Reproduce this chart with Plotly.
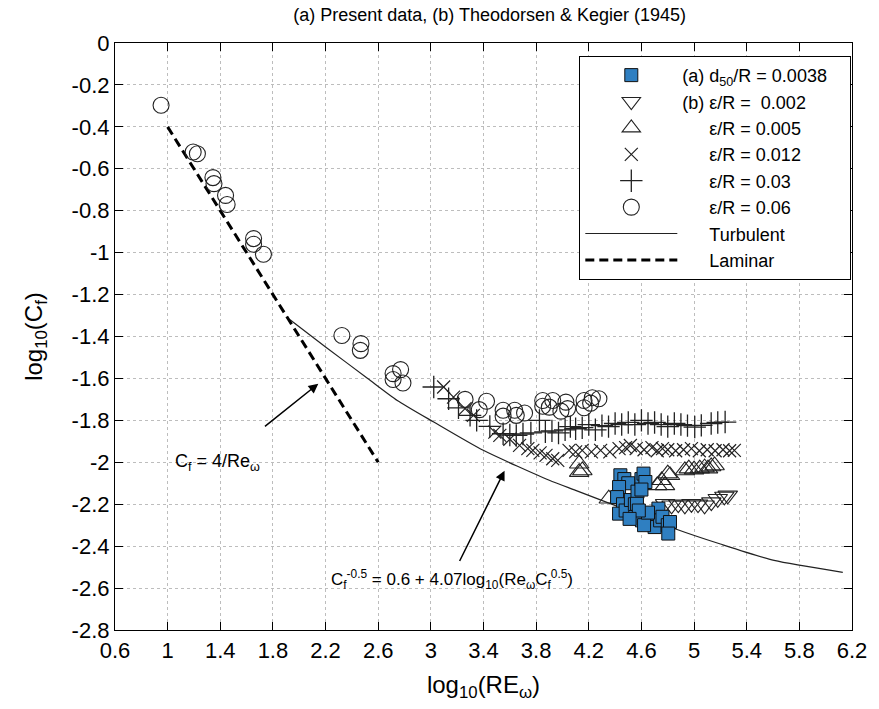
import plotly.graph_objects as go

# ---------------- data ----------------
sq_x = [4.44, 4.47, 4.50, 4.43, 4.415, 4.46, 4.43, 4.48, 4.52, 4.55, 4.57, 4.60, 4.616, 4.63, 4.60, 4.566,
        4.553, 4.604, 4.654, 4.68, 4.70, 4.729, 4.742, 4.76, 4.80, 4.817, 4.804, 4.62, 4.65, 4.58, 4.51]
sq_y = [-2.062, -2.08, -2.10, -2.118, -2.166, -2.20, -2.245, -2.23, -2.18, -2.20, -2.14, -2.08, -2.054,
        -2.094, -2.13, -2.198, -2.261, -2.277, -2.293, -2.245, -2.309, -2.221, -2.277, -2.26, -2.30,
        -2.285, -2.34, -2.30, -2.24, -2.23, -2.27]

tdn_x = [4.78, 4.829, 4.88, 4.93, 4.98, 5.03, 5.08, 5.131, 5.18, 5.23, 5.256]
tdn_y = [-2.198, -2.205, -2.20, -2.205, -2.198, -2.20, -2.205, -2.19, -2.174, -2.163, -2.158]

tup_x = [4.127, 4.127, 4.151, 4.352, 4.754, 4.779, 4.817, 4.80, 4.93, 4.96, 5.0, 5.043, 5.08, 5.106,
         5.13, 5.156, 4.72]
tup_y = [-2.007, -2.047, -2.039, -2.174, -2.086, -2.11, -2.062, -2.054, -2.039, -2.03, -2.035, -2.03,
         -2.025, -2.03, -2.02, -2.015, -2.11]

xm_x = [3.097, 3.172, 3.26, 3.323, 3.486, 3.524, 3.60, 3.674, 3.737, 3.775, 3.83, 3.875, 3.926, 3.964,
        4.05, 4.10, 4.15, 4.22, 4.29, 4.36, 4.43, 4.48, 4.516, 4.56, 4.62, 4.68, 4.72, 4.76, 4.80,
        4.86, 4.92, 4.98, 5.04, 5.10, 5.16, 5.22, 5.27, 5.306]
xm_y = [-1.641, -1.689, -1.744, -1.776, -1.856, -1.872, -1.89, -1.919, -1.935, -1.943, -1.955, -1.967,
        -1.983, -1.991, -1.943, -1.95, -1.943, -1.95, -1.943, -1.95, -1.935, -1.93, -1.92, -1.935, -1.94,
        -1.93, -1.945, -1.935, -1.94, -1.945, -1.94, -1.935, -1.945, -1.94, -1.945, -1.94, -1.945, -1.943]

pl_x = [3.022, 3.135, 3.21, 3.298, 3.348, 3.448, 3.549, 3.60, 3.649, 3.70, 3.76, 3.825, 3.87, 3.92,
        3.97, 4.02, 4.06, 4.10, 4.15, 4.20, 4.25, 4.30, 4.35, 4.40, 4.45, 4.50, 4.55, 4.60, 4.65, 4.70,
        4.75, 4.80, 4.85, 4.90, 4.95, 5.005, 5.055, 5.13, 5.18, 5.236]
pl_y = [-1.641, -1.697, -1.74, -1.776, -1.80, -1.829, -1.864, -1.87, -1.872, -1.865, -1.86, -1.80,
        -1.855, -1.85, -1.86, -1.845, -1.83, -1.84, -1.835, -1.82, -1.845, -1.825, -1.83, -1.815, -1.82,
        -1.81, -1.82, -1.80, -1.815, -1.81, -1.82, -1.83, -1.815, -1.82, -1.825, -1.832, -1.824, -1.815,
        -1.81, -1.808]

ci_x = [0.95, 1.194, 1.226, 1.344, 1.352, 1.44, 1.452, 1.653, 1.653, 1.728, 2.324, 2.469, 2.464, 2.713,
        2.77, 2.713, 2.788, 3.26, 3.368, 3.423, 3.549, 3.549, 3.637, 3.649, 3.712, 3.85, 3.85, 3.926,
        3.90, 3.988, 4.026, 4.039, 4.164, 4.164, 4.214, 4.227, 4.277]
ci_y = [-0.297, -0.52, -0.528, -0.642, -0.671, -0.727, -0.77, -0.933, -0.96, -1.008, -1.395, -1.434,
        -1.466, -1.577, -1.558, -1.605, -1.622, -1.70, -1.749, -1.709, -1.752, -1.78, -1.752, -1.776,
        -1.765, -1.705, -1.733, -1.705, -1.737, -1.756, -1.713, -1.744, -1.705, -1.74, -1.718, -1.692,
        -1.697]

turb_x = [1.93, 2.2, 2.52, 2.745, 3.022, 3.398, 3.9, 4.1, 4.5, 4.855, 5.2, 5.608, 6.13]
turb_y = [-1.32, -1.45, -1.60, -1.705, -1.808, -1.943, -2.086, -2.134, -2.23, -2.317, -2.39, -2.468, -2.525]

lam_x = [1.0, 2.6]
lam_y = [-0.4, -2.0]

x_ticks = [0.6, 1.0, 1.4, 1.8, 2.2, 2.6, 3.0, 3.4, 3.8, 4.2, 4.6, 5.0, 5.4, 5.8, 6.2]
x_ticktext = ["0.6", "1", "1.4", "1.8", "2.2", "2.6", "3", "3.4", "3.8", "4.2", "4.6", "5", "5.4", "5.8", "6.2"]
y_ticks = [0, -0.2, -0.4, -0.6, -0.8, -1.0, -1.2, -1.4, -1.6, -1.8, -2.0, -2.2, -2.4, -2.6, -2.8]
y_ticktext = ["0", "-0.2", "-0.4", "-0.6", "-0.8", "-1", "-1.2", "-1.4", "-1.6", "-1.8", "-2", "-2.2",
              "-2.4", "-2.6", "-2.8"]

names = ["(a) d<sub>50</sub>/R = 0.0038\u2003", "(b) \u03b5/R =  0.002",
         "\u2003\u2002\u03b5/R = 0.005", "\u2003\u2002\u03b5/R = 0.012",
         "\u2003\u2002\u03b5/R = 0.03", "\u2003\u2002\u03b5/R = 0.06",
         "\u2003\u2002Turbulent", "\u2003\u2002Laminar"]

FONT = "Liberation Sans, Arial, sans-serif"
MK = "#222222"

fig = go.Figure()

fig.add_trace(go.Scatter(x=turb_x, y=turb_y, mode="lines", name=names[6], legendrank=7, legendgroup="g7",
                         line=dict(color="#222222", width=1.2, shape="spline", smoothing=0.6)))
fig.add_trace(go.Scatter(x=lam_x, y=lam_y, mode="lines", name=names[7], legendrank=8, legendgroup="g8",
                         line=dict(color="black", width=3, dash="9px,5px")))

fig.add_trace(go.Scatter(x=ci_x, y=ci_y, mode="markers", name=names[5], legendrank=6, legendgroup="g6",
                         marker=dict(symbol="circle-open", size=16, color=MK, line=dict(width=1.1))))
fig.add_trace(go.Scatter(x=pl_x, y=pl_y, mode="markers", name=names[4], legendrank=5, legendgroup="g5",
                         marker=dict(symbol="cross-thin-open", size=16, color=MK, line=dict(width=1.3, color=MK))))
fig.add_trace(go.Scatter(x=xm_x, y=xm_y, mode="markers", name=names[3], legendrank=4, legendgroup="g4",
                         marker=dict(symbol="x-thin-open", size=13, color=MK, line=dict(width=1.2, color=MK))))
fig.add_trace(go.Scatter(x=tup_x, y=tup_y, mode="markers", name=names[2], legendrank=3, legendgroup="g3",
                         marker=dict(symbol="triangle-up-open", size=17, color=MK, line=dict(width=1.1))))
fig.add_trace(go.Scatter(x=tdn_x, y=tdn_y, mode="markers", name=names[1], legendrank=2, legendgroup="g2",
                         marker=dict(symbol="triangle-down-open", size=17, color=MK, line=dict(width=1.1))))
fig.add_trace(go.Scatter(x=sq_x, y=sq_y, mode="markers", name=names[0], legendrank=1, legendgroup="g1",
                         marker=dict(symbol="square", size=13, color="#2F7FC1", line=dict(width=1, color="#111111"))))

axis_common = dict(showline=True, linecolor="black", linewidth=1.2, mirror="ticks", ticks="inside",
                   ticklen=8, tickwidth=1.2, tickcolor="black", showgrid=True, gridcolor="#bdbdbd",
                   griddash="dot", gridwidth=1, zeroline=False,
                   tickfont=dict(family=FONT, size=22, color="black"))

fig.update_xaxes(range=[0.6, 6.2], tickvals=x_ticks, ticktext=x_ticktext,
                 title=dict(text="log<sub>10</sub>(RE<sub>\u03c9</sub>)", font=dict(family=FONT, size=24, color="black"),
                            standoff=14), **axis_common)
fig.update_yaxes(range=[-2.8, 0], tickvals=y_ticks, ticktext=y_ticktext,
                 title=dict(text="log<sub>10</sub>(C<sub>f</sub>)", font=dict(family=FONT, size=24, color="black"),
                            standoff=22), **axis_common)

fig.add_annotation(x=2.145, y=-1.625, ax=1.728, ay=-1.834, xref="x", yref="y", axref="x", ayref="y",
                   text="", showarrow=True, arrowhead=2, arrowsize=1.3, arrowwidth=1.5, arrowcolor="black")
fig.add_annotation(x=3.56, y=-2.04, ax=3.213, ay=-2.478, xref="x", yref="y", axref="x", ayref="y",
                   text="", showarrow=True, arrowhead=2, arrowsize=1.3, arrowwidth=1.5, arrowcolor="black")
fig.add_annotation(x=1.382, y=-2.0, xref="x", yref="y", showarrow=False,
                   text="C<sub>f</sub> = 4/Re<sub>\u03c9</sub>", font=dict(family=FONT, size=18, color="black"))
fig.add_annotation(x=3.16, y=-2.56, xref="x", yref="y", showarrow=False,
                   text="C<sub>f</sub><sup>-0.5</sup> = 0.6 + 4.07log<sub>10</sub>(Re<sub>\u03c9</sub>C<sub>f</sub><sup>0.5</sup>)",
                   font=dict(family=FONT, size=17, color="black"))

fig.update_layout(
    width=879, height=709,
    margin=dict(l=115, r=21, t=43, b=79),
    paper_bgcolor="white", plot_bgcolor="white",
    title=dict(text="(a) Present data, (b) Theodorsen & Kegier (1945)", x=0.557, xanchor="center",
               y=0.988, yanchor="top", font=dict(family="Liberation Sans Narrow, Liberation Sans, Arial", size=18, color="black")),
    showlegend=True,
    legend=dict(x=0.63, y=0.978, xanchor="left", yanchor="top", bgcolor="white", bordercolor="black",
                borderwidth=1, font=dict(family=FONT, size=18, color="black"), itemwidth=92,
                traceorder="grouped", tracegroupgap=0),
)

fig.write_html("out.html")
